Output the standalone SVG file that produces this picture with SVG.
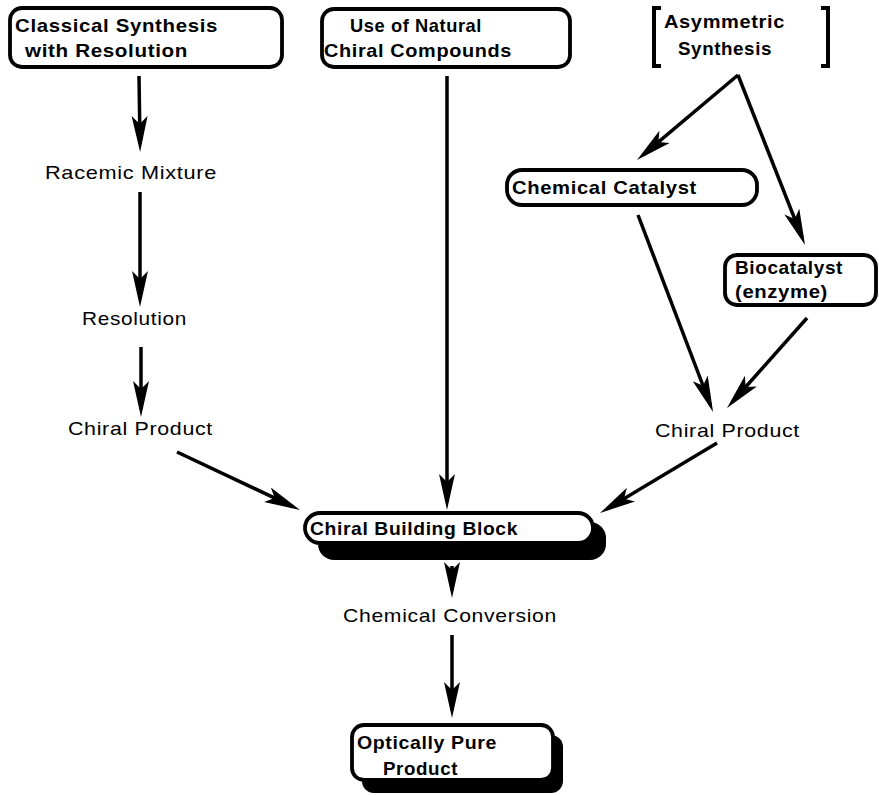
<svg xmlns="http://www.w3.org/2000/svg" width="879" height="795" viewBox="0 0 879 795">
<style>
  .box{fill:#fff;stroke:#000;stroke-width:3.8}
  .shadow{fill:#000;stroke:none}
  .bt{font-family:"Liberation Sans",Arial,sans-serif;font-weight:bold;font-size:19px;letter-spacing:0.6px;fill:#000}
  .pt{font-family:"Liberation Sans",Arial,sans-serif;font-size:19px;letter-spacing:0.6px;fill:#000}
  .edge{stroke:#000;stroke-width:3.5;fill:none;marker-end:url(#ah)}
  .brk{stroke:#000;stroke-width:4;fill:none}
</style>
<defs>
  <marker id="ah" viewBox="0 0 36 18" refX="28" refY="9" markerWidth="36" markerHeight="18" markerUnits="userSpaceOnUse" orient="auto">
    <path d="M0,1 L36,9 L0,17 L8,9 Z" fill="#000"/>
  </marker>
</defs>
<rect width="879" height="795" fill="#fff"/>

<g id="classical">
  <rect class="box" x="10" y="8" width="272" height="59" rx="12"/>
  <text class="bt" x="15" y="32" textLength="203" lengthAdjust="spacingAndGlyphs">Classical Synthesis</text>
  <text class="bt" x="25" y="57" textLength="163" lengthAdjust="spacingAndGlyphs">with Resolution</text>
</g>
<g id="natural">
  <rect class="box" x="322" y="9" width="248" height="58" rx="12"/>
  <text class="bt" x="350" y="32" textLength="132" lengthAdjust="spacingAndGlyphs">Use of Natural</text>
  <text class="bt" x="324" y="57" textLength="188" lengthAdjust="spacingAndGlyphs">Chiral Compounds</text>
</g>
<g id="asymmetric">
  <path class="brk" d="M661,8 H654 V66 H661"/>
  <path class="brk" d="M821,8 H828 V66 H821"/>
  <text class="bt" x="664" y="28" textLength="121" lengthAdjust="spacingAndGlyphs">Asymmetric</text>
  <text class="bt" x="678" y="55" textLength="94" lengthAdjust="spacingAndGlyphs">Synthesis</text>
</g>
<g id="racemic">
  <text class="pt" x="45" y="179" textLength="172" lengthAdjust="spacingAndGlyphs">Racemic Mixture</text>
</g>
<g id="resolution">
  <text class="pt" x="82" y="325" textLength="105" lengthAdjust="spacingAndGlyphs">Resolution</text>
</g>
<g id="chiral-product-left">
  <text class="pt" x="68" y="435" textLength="145" lengthAdjust="spacingAndGlyphs">Chiral Product</text>
</g>
<g id="chemical-catalyst">
  <rect class="box" x="507" y="170" width="250" height="35" rx="15"/>
  <text class="bt" x="512" y="194" textLength="185" lengthAdjust="spacingAndGlyphs">Chemical Catalyst</text>
</g>
<g id="biocatalyst">
  <rect class="box" x="725" y="255" width="151" height="50" rx="12"/>
  <text class="bt" x="735" y="274" textLength="108" lengthAdjust="spacingAndGlyphs">Biocatalyst</text>
  <text class="bt" x="735" y="298" textLength="93" lengthAdjust="spacingAndGlyphs">(enzyme)</text>
</g>
<g id="chiral-product-right">
  <text class="pt" x="655" y="437" textLength="145" lengthAdjust="spacingAndGlyphs">Chiral Product</text>
</g>
<g id="building-block">
  <rect class="shadow" x="318" y="522" width="288" height="38" rx="16"/>
  <rect class="box" x="305" y="513" width="288" height="30" rx="15"/>
  <text class="bt" x="310" y="535" textLength="208" lengthAdjust="spacingAndGlyphs">Chiral Building Block</text>
</g>
<g id="conversion">
  <text class="pt" x="343" y="622" textLength="214" lengthAdjust="spacingAndGlyphs">Chemical Conversion</text>
</g>
<g id="pure-product">
  <rect class="shadow" x="362" y="735" width="201" height="58" rx="12"/>
  <rect class="box" x="352" y="725" width="201" height="55" rx="12"/>
  <text class="bt" x="357" y="749" textLength="140" lengthAdjust="spacingAndGlyphs">Optically Pure</text>
  <text class="bt" x="383" y="775" textLength="75" lengthAdjust="spacingAndGlyphs">Product</text>
</g>

<g id="connectors">
  <path class="edge" d="M139,76 L140,144"/>
  <path class="edge" d="M140,192 L140,299"/>
  <path class="edge" d="M141,347 L141,409"/>
  <path class="edge" d="M177,452 L292.8,506.6"/>
  <path class="edge" d="M447,76 L447,502"/>
  <path class="edge" d="M738,75 L643.1,154.8"/>
  <path class="edge" d="M738,75 L802.1,237.6"/>
  <path class="edge" d="M638,215 L710.2,404.5"/>
  <path class="edge" d="M807,318 L732.3,402"/>
  <path class="edge" d="M717,443 L606.9,508.9"/>
  <path class="edge" d="M452,566 L452,590"/>
  <path class="edge" d="M452,635 L452,710"/>
</g>
</svg>
